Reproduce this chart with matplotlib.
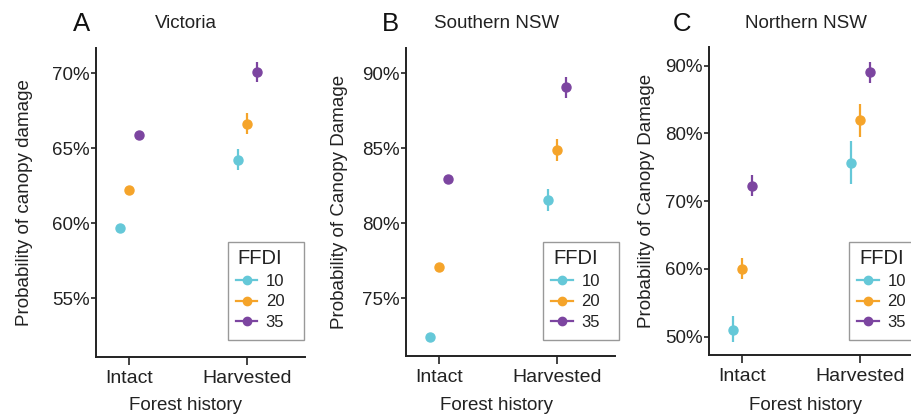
import numpy as np
import matplotlib
matplotlib.use("Agg")
import matplotlib.pyplot as plt
from matplotlib.ticker import FuncFormatter
from matplotlib.lines import Line2D
from matplotlib.patches import Rectangle

plt.rcParams['font.family'] = ['Liberation Sans', 'DejaVu Sans']

# categories and series
history = ["Intact", "Harvested"]
ffdi = ["10", "20", "35"]
colors = ["#65C8D8", "#F5A42A", "#7C45A0"]

# Victoria (%), rows = FFDI 10/20/35, cols = Intact/Harvested
vic_mean = [[59.7, 64.25], [62.2, 66.65], [65.9, 70.1]]
vic_low = [[59.6, 63.55], [62.1, 65.95], [65.8, 69.4]]
vic_high = [[59.8, 64.95], [62.3, 67.35], [66.0, 70.8]]

# Southern NSW
snsw_mean = [[72.4, 81.55], [77.1, 84.9], [82.95, 89.07]]
snsw_low = [[72.3, 80.82], [77.0, 84.18], [82.85, 88.33]]
snsw_high = [[72.5, 82.29], [77.2, 85.62], [83.05, 89.77]]

# Northern NSW
nnsw_mean = [[51.0, 75.7], [60.05, 82.0], [72.3, 89.0]]
nnsw_low = [[49.26, 72.6], [58.5, 79.4], [70.8, 87.4]]
nnsw_high = [[53.05, 78.9], [61.6, 84.4], [73.9, 90.6]]

panels = [
    ("A", "Victoria", "Probability of canopy damage", vic_mean, vic_low, vic_high,
     [55, 60, 65, 70], (51.1, 71.7)),
    ("B", "Southern NSW", "Probability of Canopy Damage", snsw_mean, snsw_low, snsw_high,
     [75, 80, 85, 90], (71.15, 91.69)),
    ("C", "Northern NSW", "Probability of Canopy Damage", nnsw_mean, nnsw_low, nnsw_high,
     [50, 60, 70, 80, 90], (47.3, 92.8)),
]

W, H = 912, 419
fig = plt.figure(figsize=(W / 100, H / 100), dpi=100)

# layout in pixels: axes left/top/bottom, letter x, title centre x, legend box left
boxes = [(96, 48, 357, 73, 186, 227.7), (405.7, 48, 356, 382, 497, 543.3),
         (709, 46.7, 355, 673, 806, 849.3)]
ylab_x = [-0.301, -0.276, -0.258]
ax_w = 209
dodge = [-0.075, 0.0, 0.08]
ink = "#222222"
leg_top, leg_bot, leg_w = 241.7, 340, 76

for i, (letter, title, ylab, mean, low, high, yt, ylim) in enumerate(panels):
    left, top, bottom, lx, tx, lgx = boxes[i]
    ah = bottom - top
    ax = fig.add_axes([left / W, 1 - bottom / H, ax_w / W, ah / H])
    x = np.arange(1, len(history) + 1)
    for j, lab in enumerate(ffdi):
        m = np.array(mean[j])
        err = np.array([m - np.array(low[j]), np.array(high[j]) - m])
        ax.errorbar(x + dodge[j], m, yerr=err, fmt='o', color=colors[j],
                    markersize=6.5, elinewidth=1.6, capsize=0, label=lab)
    ax.set_xlim(0.72, 2.49)
    ax.set_ylim(*ylim)
    ax.set_xticks(x)
    ax.set_xticklabels(history)
    ax.set_yticks(yt)
    ax.yaxis.set_major_formatter(FuncFormatter(lambda v, _: f"{v:.0f}%"))
    for s in ["top", "right"]:
        ax.spines[s].set_visible(False)
    for s in ["left", "bottom"]:
        ax.spines[s].set_linewidth(1.4)
        ax.spines[s].set_color(ink)
    ax.tick_params(axis='x', length=6, width=1.2, pad=3, labelsize=14, colors=ink)
    ax.tick_params(axis='y', length=3.5, width=1.2, pad=1, labelsize=13.5, colors=ink)
    ax.set_ylabel(ylab, fontsize=13.5, color=ink)
    ax.yaxis.set_label_coords(ylab_x[i], 0.5)

    # legend frame drawn as its own box, legend content placed inside
    ax.add_patch(Rectangle(((lgx - left) / ax_w, (bottom - leg_bot) / ah),
                           leg_w / ax_w, (leg_bot - leg_top) / ah,
                           transform=ax.transAxes, facecolor="white",
                           edgecolor="#999999", lw=1.0, clip_on=False, zorder=4))
    hs = [Line2D([0], [0], color=c, marker='o', markersize=6, lw=1.6) for c in colors]
    leg = ax.legend(hs, ffdi, title="FFDI", loc='lower left',
                    bbox_to_anchor=((lgx + 8 - left) / ax_w, (bottom - 330) / ah),
                    borderaxespad=0, borderpad=0, frameon=False,
                    fontsize=12, title_fontsize=14.5,
                    handlelength=1.3, handletextpad=0.5, labelspacing=0.34)
    leg.set_zorder(5)
    for t in leg.get_texts():
        t.set_color(ink)
    leg.get_title().set_color(ink)

    fig.text(lx / W, 1 - 24 / H, letter, fontsize=18.5, va='center', ha='left', color="#111111")
    fig.text(tx / W, 1 - 24 / H, title, fontsize=13.5, va='center', ha='center', color=ink)
    fig.text(tx / W, 1 - 405 / H, "Forest history", fontsize=13.5, va='center', ha='center', color=ink)

fig.savefig("out.png", dpi=100)
